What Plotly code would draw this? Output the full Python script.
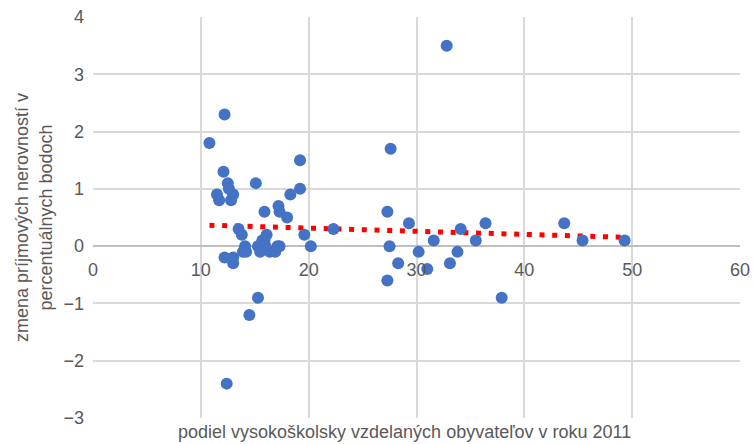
import numpy as np
import plotly.graph_objects as go

# share of university-educated residents in 2011 (%)
edu_share = [10.8, 12.2, 12.1, 12.5, 11.5, 11.7, 12.6, 13.0, 12.8, 15.1,
             19.2, 19.2, 18.3, 17.2, 17.3, 18.0, 15.9, 13.5, 13.8, 16.1,
             15.9, 19.6, 22.3, 20.2, 14.1, 13.9, 12.2, 13.0, 13.0, 15.3,
             15.5, 16.4, 16.9, 17.3, 17.1, 15.3, 14.5, 12.4, 27.6, 27.3,
             29.3, 27.5, 30.2, 28.3, 27.3, 31.0, 31.6, 33.1, 33.8, 34.1,
             35.5, 36.4, 37.9, 43.7, 45.4, 49.3, 32.8, 15.7, 14.2, 16.0]
# change of income inequality in percentage points
ineq_change = [1.8, 2.3, 1.3, 1.1, 0.9, 0.8, 1.0, 0.9, 0.8, 1.1,
               1.5, 1.0, 0.9, 0.7, 0.6, 0.5, 0.6, 0.3, 0.2, 0.2,
               0.1, 0.2, 0.3, 0.0, 0.0, -0.1, -0.2, -0.3, -0.2, 0.0,
               -0.1, -0.1, -0.1, 0.0, 0.0, -0.9, -1.2, -2.4, 1.7, 0.6,
               0.4, 0.0, -0.1, -0.3, -0.6, -0.4, 0.1, -0.3, -0.1, 0.3,
               0.1, 0.4, -0.9, 0.4, 0.1, 0.1, 3.5, 0.1, -0.1, 0.0]

x_ticks = [0, 10, 20, 30, 40, 50, 60]
y_ticks = [-3, -2, -1, 0, 1, 2, 3, 4]

x = np.array(edu_share)
y = np.array(ineq_change)
slope, intercept = np.polyfit(x, y, 1)
tx = np.array([x.min(), x.max()])
ty = slope * tx + intercept

grey = "#595959"
font = "Liberation Sans Narrow, Liberation Sans, sans-serif"

fig = go.Figure()
fig.add_trace(go.Scatter(x=tx, y=ty, mode="lines",
                         line=dict(color="#ff0000", width=5, dash="5px,7.7px"),
                         hoverinfo="skip", showlegend=False))
fig.add_trace(go.Scatter(x=edu_share, y=ineq_change, mode="markers",
                         marker=dict(color="#4472C4", size=12),
                         showlegend=False, cliponaxis=False))

fig.update_layout(
    width=753, height=444,
    margin=dict(l=93, r=13, t=17, b=26),
    plot_bgcolor="white", paper_bgcolor="white",
    font=dict(family=font, color=grey, size=18),
    xaxis=dict(range=[0, 60], tickvals=x_ticks, showgrid=True,
               gridcolor="#d9d9d9", gridwidth=1.5, zeroline=False,
               showline=False, ticks="", anchor="free", position=3/7,
               automargin=False, ticklabelstandoff=11,
               ticklabeloverflow="allow",
               tickfont=dict(size=18, color=grey)),
    yaxis=dict(range=[-3, 4], tickvals=y_ticks, showgrid=True,
               gridcolor="#d9d9d9", gridwidth=1.5, zeroline=True,
               zerolinecolor="#bfbfbf", zerolinewidth=1.5,
               ticks="", tickfont=dict(size=18, color=grey),
               automargin=False, ticklabelstandoff=8,
               ticklabeloverflow="allow",
               title=dict(text="zmena príjmových nerovností v<br>percentuálnych bodoch",
                          font=dict(size=18, color=grey), standoff=6)),
    annotations=[dict(text="podiel vysokoškolsky vzdelaných obyvateľov v roku 2011",
                      xref="paper", yref="paper", x=0.482, y=-0.035,
                      xanchor="center", yanchor="middle", showarrow=False,
                      font=dict(size=18, color=grey))],
)

fig.write_html("out.html", config={"displayModeBar": False},
               post_script="document.body.style.margin='0';document.body.style.overflow='hidden';")
